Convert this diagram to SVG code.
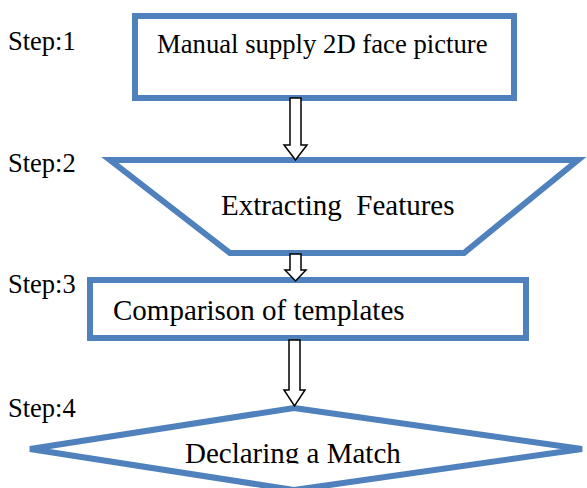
<svg xmlns="http://www.w3.org/2000/svg" width="587" height="488" viewBox="0 0 587 488">
<style>
.shape{fill:#fff;stroke:#4F81BD;stroke-width:6;stroke-linejoin:miter}
.t{font-family:"Liberation Serif","Times New Roman",serif;fill:#000}
.arrow{fill:#fff;stroke:#000;stroke-width:1.5;stroke-linejoin:miter}
</style>
<defs>
<clipPath id="clipD"><rect x="0" y="0" width="587" height="463.5"/></clipPath>
</defs>
<rect width="587" height="488" fill="#fff"/>
<g id="labels">
<text class="t" x="8" y="50" font-size="26.5">Step:1</text>
<text class="t" x="8" y="172" font-size="26.5">Step:2</text>
<text class="t" x="8" y="293" font-size="26.5">Step:3</text>
<text class="t" x="8" y="417" font-size="26.5">Step:4</text>
</g>
<g id="node1">
<rect class="shape" x="135" y="16" width="379" height="82"/>
<text class="t" x="157" y="53" font-size="26.7">Manual supply 2D face picture</text>
</g>
<g id="node2">
<polygon class="shape" points="110,160 578,160 464,253 230,253"/>
<text class="t" x="221" y="215" font-size="29" xml:space="preserve">Extracting  Features</text>
</g>
<g id="node3">
<rect class="shape" x="90" y="280" width="436" height="58"/>
<text class="t" x="113" y="320" font-size="29">Comparison of templates</text>
</g>
<g id="node4">
<polygon class="shape" points="294,408 582,449 294,490 30,449"/>
<text class="t" x="185" y="463" font-size="29" clip-path="url(#clipD)">Declaring a Match</text>
</g>
<g id="connectors">
<polygon class="arrow" points="290,98 301,98 301,145 307,145 295.5,160 284,145 290,145"/>
<polygon class="arrow" points="290,254 301,254 301,270 306,270 295.5,281 285,270 290,270"/>
<polygon class="arrow" points="289,340 300,340 300,390 305,390 294.5,406 284,390 289,390"/>
</g>
</svg>
